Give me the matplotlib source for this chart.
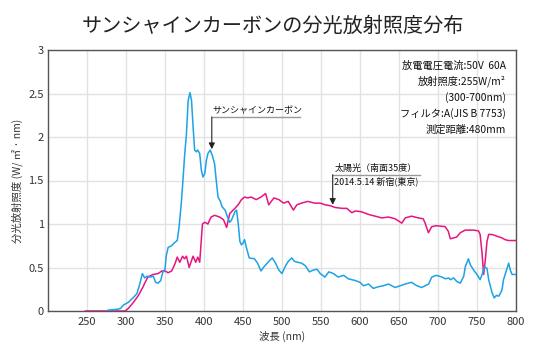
import matplotlib
matplotlib.use("Agg")
import matplotlib.pyplot as plt

plt.rcParams['font.family'] = ['Noto Sans CJK JP', 'DejaVu Sans']

# サンシャインカーボン (nm, W/m2/nm)
carbon_nm = [277, 289, 293, 297, 303, 310, 314, 318, 321, 324, 327, 331, 335, 338, 341, 344.5,
             347, 350, 351.5, 354, 358.5, 362.7, 365.7, 368, 371, 373, 375, 377.5, 379.7, 382,
             384, 386, 388, 390, 392, 394.5, 396.6, 398.7, 401, 403, 405, 408, 410.6, 413.6,
             415.7, 418, 421, 423, 427, 431, 433, 435, 439.6, 441.7, 443.7, 446, 448, 450, 452,
             454, 458, 464.6, 468.7, 473, 477, 481, 485, 487.5, 491.7, 496, 500, 504, 508, 512.5,
             516, 520, 525, 530, 535, 540, 545, 549, 555, 560, 566, 572, 579, 585, 594, 600,
             604.5, 611, 617, 624, 630, 636.5, 645, 651.5, 658, 666, 673, 679, 688, 692, 698,
             705, 709.6, 713.7, 716, 720, 724, 728.6, 733, 735, 739, 741.5, 745.7, 750, 754, 757,
             759.4, 762.8, 765, 769, 772, 775, 778, 782, 784, 788.5, 790.6, 792.7, 795, 800]
carbon_val = [0.01, 0.02, 0.03, 0.07, 0.10, 0.16, 0.20, 0.32, 0.43, 0.38, 0.40, 0.39, 0.40, 0.33,
              0.32, 0.35, 0.44, 0.48, 0.63, 0.73, 0.75, 0.79, 0.81, 0.96, 1.25, 1.50, 1.77, 2.04,
              2.42, 2.51, 2.42, 2.12, 1.85, 1.83, 1.85, 1.81, 1.62, 1.54, 1.58, 1.73, 1.81, 1.85,
              1.79, 1.69, 1.50, 1.31, 1.26, 1.20, 1.16, 1.06, 1.02, 1.04, 1.14, 1.16, 1.02, 0.80,
              0.76, 0.78, 0.82, 0.74, 0.61, 0.60, 0.55, 0.46, 0.51, 0.55, 0.59, 0.61, 0.55, 0.47,
              0.43, 0.51, 0.57, 0.61, 0.57, 0.56, 0.55, 0.52, 0.45, 0.47, 0.48, 0.43, 0.39, 0.45,
              0.43, 0.39, 0.41, 0.37, 0.35, 0.33, 0.29, 0.31, 0.26, 0.28, 0.29, 0.31, 0.27, 0.29,
              0.31, 0.33, 0.29, 0.27, 0.31, 0.39, 0.41, 0.39, 0.37, 0.38, 0.36, 0.38, 0.34, 0.32,
              0.40, 0.51, 0.60, 0.53, 0.47, 0.42, 0.36, 0.43, 0.51, 0.49, 0.36, 0.22, 0.15, 0.18,
              0.17, 0.24, 0.36, 0.49, 0.55, 0.47, 0.42, 0.42]

# 太陽光 (南面35度) 2014.5.14 新宿
sun_nm = [248, 260, 280, 299, 303, 309.6, 316, 322, 324, 328, 334.6, 341, 346, 350, 354, 358.5,
          362.7, 365.7, 369, 372.5, 375, 377.5, 381, 384, 386, 389.4, 392, 394.5, 398, 401, 405,
          409, 413.6, 420, 425, 429, 433, 439.6, 443.7, 448, 452, 456, 460.4, 467, 473, 479, 483,
          489.6, 496, 502, 508, 514.6, 519, 525, 533, 541.7, 549, 555.5, 562, 568, 577, 583,
          589.6, 594, 602, 611, 619.5, 628, 636.5, 645, 653.6, 658, 666, 675, 681, 683.5, 687.7,
          692, 698, 709, 713, 715.8, 720, 724, 728.6, 735, 745.7, 752, 754, 756.4, 758.5, 760.7,
          762.8, 765, 769, 775.6, 782, 786, 790.6, 800]
sun_val = [0, 0, 0, 0, 0.03, 0.10, 0.18, 0.28, 0.32, 0.39, 0.42, 0.43, 0.46, 0.46, 0.44, 0.46,
           0.54, 0.62, 0.56, 0.63, 0.60, 0.63, 0.50, 0.58, 0.63, 0.56, 0.62, 0.56, 1.00, 1.02, 1.00,
           1.08, 1.10, 1.08, 1.05, 0.96, 1.12, 1.18, 1.22, 1.28, 1.31, 1.30, 1.31, 1.28, 1.31, 1.35,
           1.22, 1.30, 1.28, 1.24, 1.26, 1.16, 1.22, 1.24, 1.26, 1.24, 1.24, 1.22, 1.21, 1.19, 1.18,
           1.18, 1.13, 1.15, 1.14, 1.11, 1.09, 1.07, 1.08, 1.06, 1.01, 1.07, 1.09, 1.07, 1.06, 1.01,
           0.90, 0.97, 0.98, 0.97, 0.92, 0.83, 0.84, 0.85, 0.90, 0.93, 0.93, 0.92, 0.88, 0.67, 0.42,
           0.59, 0.80, 0.88, 0.88, 0.86, 0.84, 0.82, 0.81, 0.81]

x_ticks = [250, 300, 350, 400, 450, 500, 550, 600, 650, 700, 750, 800]
y_ticks = [0, 0.5, 1, 1.5, 2, 2.5, 3]
y_labels = ['0', '0.5', '1', '1.5', '2', '2.5', '3']

conditions = ['放電電圧電流:50V  60A', '放射照度:255W/m²', '(300-700nm)',
              'フィルタ:A(JIS B 7753)', '測定距離:480mm']

fig = plt.figure(figsize=(5.45, 3.49), dpi=100)
ax = fig.add_axes([48 / 545, 38 / 349, 468 / 545, 261 / 349])

ax.plot(sun_nm, sun_val, color='#e6157f', lw=1.1, zorder=3)
ax.plot(carbon_nm, carbon_val, color='#1ca2e6', lw=1.1, zorder=4)

ax.set_xlim(200, 800)
ax.set_ylim(0, 3)
ax.set_xticks(x_ticks)
ax.set_yticks(y_ticks)
ax.set_yticklabels(y_labels)
ax.grid(True, color='#e2e2e2', lw=1)
ax.set_axisbelow(True)
ax.tick_params(length=0, labelsize=8, colors='#333333')
ax.tick_params(axis='y', pad=3)
ax.tick_params(axis='x', pad=4)
for s in ax.spines.values():
    s.set_color('#555555')
    s.set_linewidth(1)

ax.set_xlabel('波長 (nm)', fontsize=7.5, color='#333333', labelpad=3)
ax.set_ylabel('分光放射照度 (W/ ㎡ · nm)', fontsize=7.5, color='#333333', labelpad=4)

fig.text(0.5, 1 - 26 / 349, 'サンシャインカーボンの分光放射照度分布', ha='center', va='center',
         fontsize=14.5, color='#222222')

# 測定条件
for i, line in enumerate(conditions):
    ax.text(0.979, 0.94 - i * 0.061, line, transform=ax.transAxes, ha='right', va='center',
            fontsize=7.4, color='#111111')

# サンシャインカーボン の引き出し線
ax.plot([410, 523], [2.23, 2.23], color='#999999', lw=1, zorder=5)
ax.text(411, 2.25, 'サンシャインカーボン', fontsize=6.5, ha='left', va='bottom', color='#111111')
ax.annotate('', xy=(410, 1.86), xytext=(410, 2.23),
            arrowprops=dict(arrowstyle='-|>', color='#222222', lw=0.8, mutation_scale=9,
                            shrinkA=0, shrinkB=0), zorder=6)

# 太陽光 の引き出し線
ax.plot([565, 677], [1.566, 1.566], color='#999999', lw=1, zorder=5)
ax.text(567, 1.585, '太陽光（南面35度）', fontsize=6.5, ha='left', va='bottom', color='#111111')
ax.text(567, 1.49, '2014.5.14 新宿(東京)', fontsize=6.5, ha='left', va='center', color='#111111')
ax.annotate('', xy=(565, 1.22), xytext=(565, 1.566),
            arrowprops=dict(arrowstyle='-|>', color='#222222', lw=0.8, mutation_scale=9,
                            shrinkA=0, shrinkB=0), zorder=6)

fig.savefig('out.png', dpi=100)
